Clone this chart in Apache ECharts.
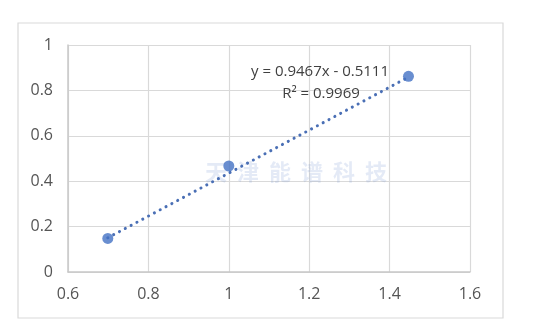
<!DOCTYPE html>
<html><head><meta charset="utf-8">
<script src="https://cdn.jsdelivr.net/npm/echarts@6/dist/echarts.min.js"></script>
<style>html,body{margin:0;padding:0;background:#fff}#c{width:546px;height:330px}</style>
</head><body><div id="c"></div>
<script>
var xValues = [0.699, 1.0, 1.447];
var yValues = [0.148, 0.467, 0.862];
var slope = 0.9467;
var intercept = -0.5111;
var equationText = 'y = 0.9467x - 0.5111';
var r2Text = 'R² = 0.9969';
var xTicks = {min: 0.6, max: 1.6, interval: 0.2};
var yTicks = {min: 0, max: 1, interval: 0.2};
var watermark = '天  津  能  谱  科  技';

var pts = xValues.map(function(x, i){ return [x, yValues[i]]; });
var xmin = Math.min.apply(null, xValues), xmax = Math.max.apply(null, xValues);
var trend = [[xmin, slope*xmin + intercept], [xmax, slope*xmax + intercept]];

var chart = echarts.init(document.getElementById('c'));
var font = '"Open Sans", "Liberation Sans", sans-serif';
chart.setOption({
  animation: false,
  grid: {left: 68, right: 76, top: 45, bottom: 58},
  xAxis: {type: 'value', min: xTicks.min, max: xTicks.max, interval: xTicks.interval,
    axisLine: {show: true, lineStyle: {color: '#c8c8c8', width: 1.5}},
    axisTick: {show: false},
    splitLine: {show: true, lineStyle: {color: '#d9d9d9', width: 1.2}},
    axisLabel: {color: '#555555', fontSize: 16, fontFamily: font, margin: 14,
      formatter: function(v){ return String(+v.toFixed(1)); }}},
  yAxis: {type: 'value', min: yTicks.min, max: yTicks.max, interval: yTicks.interval,
    axisLine: {show: true, lineStyle: {color: '#c8c8c8', width: 1.5}},
    axisTick: {show: false},
    splitLine: {show: true, lineStyle: {color: '#d9d9d9', width: 1.2}},
    axisLabel: {color: '#555555', fontSize: 16, fontFamily: font, margin: 15,
      formatter: function(v){ return String(+v.toFixed(1)); }}},
  graphic: [
    {type: 'rect', shape: {x: 18, y: 23, width: 485, height: 295}, z: -10,
      style: {fill: 'none', stroke: '#d9d9d9', lineWidth: 1.2}},
    {type: 'text', left: 205, top: 161, z: 1,
      style: {text: watermark, fontSize: 22, fontWeight: 'bold', fill: 'rgba(120,150,210,0.2)',
        fontFamily: '"Noto Sans CJK SC", sans-serif'}},
    {type: 'text', x: 320, y: 72, z: 10,
      style: {text: equationText, fontSize: 15, fill: '#404040', fontFamily: font,
        align: 'center', verticalAlign: 'middle'}},
    {type: 'text', x: 321, y: 94, z: 10,
      style: {text: r2Text, fontSize: 15, fill: '#404040', fontFamily: font,
        align: 'center', verticalAlign: 'middle'}}
  ],
  series: [
    {type: 'line', data: trend, symbol: 'none', silent: true, z: 2,
      lineStyle: {color: '#4a6fb5', width: 3, type: [0.1, 6.5], cap: 'round'}},
    {type: 'scatter', data: pts, symbol: 'circle', symbolSize: 11, z: 3,
      itemStyle: {color: '#4472c4'}}
  ]
});
</script></body></html>
